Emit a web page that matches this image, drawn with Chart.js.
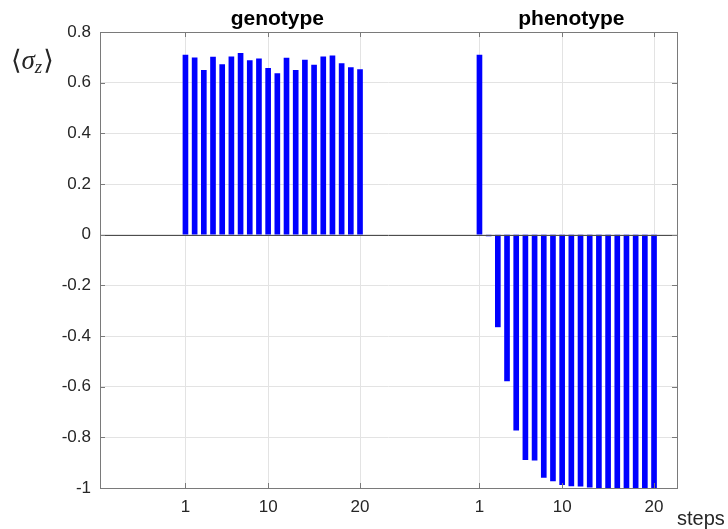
<!DOCTYPE html>
<html><head><meta charset="utf-8">
<script src="https://cdn.jsdelivr.net/npm/chart.js@4/dist/chart.umd.min.js"></script>
<style>html,body{margin:0;padding:0;background:#fff;}#wrap{width:728px;height:529px;position:relative;}</style>
</head><body><div id="wrap"><canvas id="c" width="728" height="529"></canvas></div>
<script>
// ---- data ----
const steps = [1,2,3,4,5,6,7,8,9,10,11,12,13,14,15,16,17,18,19,20];
const genotypeValues = [0.709,0.698,0.649,0.701,0.671,0.702,0.716,0.687,0.694,0.657,0.636,0.697,0.649,0.689,0.669,0.702,0.706,0.675,0.660,0.652];
const phenotypeValues = [0.709,-0.005,-0.364,-0.577,-0.772,-0.888,-0.890,-0.958,-0.972,-0.987,-0.992,-0.993,-0.997,-1.0,-1.0,-1.0,-1.0,-1.0,-1.0,-1.0];
const groupNames = ['genotype','phenotype'];
const xTickSteps = [1,10,20];
const yTickValues = [-1,-0.8,-0.6,-0.4,-0.2,0,0.2,0.4,0.6,0.8];
const xAxisLabel = 'steps';
const phenotypeOffset = 32;

const genoPts = steps.map((s,i)=>({x:s, y:genotypeValues[i]}));
const phenoPts = steps.map((s,i)=>({x:s+phenotypeOffset, y:phenotypeValues[i]}));
const xTickPos = xTickSteps.concat(xTickSteps.map(s=>s+phenotypeOffset));
const xTickLabel = {};
xTickSteps.forEach(s=>{xTickLabel[s]=String(s); xTickLabel[s+phenotypeOffset]=String(s);});

const FONT = '"Liberation Sans", Arial, Helvetica, sans-serif';
const BOX = '#7a7a7a';

const decor = {
  id:'decor',
  afterDatasetsDraw(chart){
    const {ctx, chartArea:a, scales:{x,y}} = chart;
    ctx.save();
    const y0 = Math.round(y.getPixelForValue(0))+0.5;
    ctx.strokeStyle = '#4d4d4d'; ctx.lineWidth = 1;
    ctx.beginPath(); ctx.moveTo(a.left,y0); ctx.lineTo(a.right,y0); ctx.stroke();
    ctx.strokeStyle = BOX;
    ctx.strokeRect(Math.round(a.left)+0.5, Math.round(a.top)+0.5, Math.round(a.right-a.left), Math.round(a.bottom-a.top));
    const tl = 5;
    ctx.beginPath();
    xTickPos.forEach(v=>{
      const px = Math.round(x.getPixelForValue(v))+0.5;
      ctx.moveTo(px,a.top); ctx.lineTo(px,a.top+tl);
      ctx.moveTo(px,a.bottom); ctx.lineTo(px,a.bottom-tl);
    });
    yTickValues.forEach(v=>{
      const py = Math.round(y.getPixelForValue(v))+0.5;
      ctx.moveTo(a.left,py); ctx.lineTo(a.left+tl,py);
      ctx.moveTo(a.right,py); ctx.lineTo(a.right-tl,py);
    });
    ctx.stroke();
    ctx.restore();
  },
  afterDraw(chart){
    const {ctx, chartArea:a, scales:{x}} = chart;
    ctx.save();
    ctx.fillStyle = '#000';
    ctx.font = 'bold 21px ' + FONT;
    ctx.textAlign = 'center'; ctx.textBaseline = 'alphabetic';
    ctx.fillText(groupNames[0], x.getPixelForValue(11), 25);
    ctx.fillText(groupNames[1], x.getPixelForValue(11+phenotypeOffset), 25);
    ctx.fillStyle = '#262626';
    ctx.font = '20px ' + FONT;
    ctx.textAlign = 'left';
    ctx.fillText(xAxisLabel, a.right, 525);
    let px = 11, base = 69;
    ctx.font = '27px "DejaVu Serif", "Liberation Serif", serif';
    ctx.fillText('\u27E8', px, base); px += ctx.measureText('\u27E8').width;
    ctx.font = 'italic 27px "Liberation Serif", "DejaVu Serif", serif';
    ctx.fillText('\u03C3', px, base); px += ctx.measureText('\u03C3').width;
    ctx.font = 'italic 19px "Liberation Serif", "DejaVu Serif", serif';
    ctx.fillText('z', px, base+4); px += ctx.measureText('z').width + 1;
    ctx.font = '27px "DejaVu Serif", "Liberation Serif", serif';
    ctx.fillText('\u27E9', px, base);
    ctx.restore();
  }
};

new Chart(document.getElementById('c'), {
  type:'bar',
  data:{datasets:[
    {label:groupNames[0], data:genoPts, backgroundColor:'#0000ff', borderWidth:0, barThickness:5, grouped:false},
    {label:groupNames[1], data:phenoPts, backgroundColor:'#0000ff', borderWidth:0, barThickness:5, grouped:false}
  ]},
  options:{
    responsive:false, animation:false, devicePixelRatio:1,
    layout:{padding:{left:0, top:32, right:51, bottom:0}},
    plugins:{legend:{display:false}, tooltip:{enabled:false}},
    scales:{
      x:{type:'linear', min:-8.3, max:54.5, offset:false,
        grid:{color:'#e3e3e3', drawTicks:false, offset:false},
        border:{display:false},
        afterBuildTicks:s=>{s.ticks = xTickPos.map(v=>({value:v}));},
        afterFit:s=>{s.height = 41;},
        ticks:{autoSkip:false, maxRotation:0, padding:9, color:'#262626', font:{family:FONT, size:17},
          callback:v=>xTickLabel[v] || ''}
      },
      y:{type:'linear', min:-1, max:0.8,
        grid:{color:'#e3e3e3', drawTicks:false},
        border:{display:false},
        afterBuildTicks:s=>{s.ticks = yTickValues.map(v=>({value:v}));},
        afterFit:s=>{s.width = 100;},
        ticks:{padding:9, color:'#262626', font:{family:FONT, size:17},
          callback:v=>String(Number(v.toFixed(1)))}
      }
    }
  },
  plugins:[decor]
});
</script></body></html>
